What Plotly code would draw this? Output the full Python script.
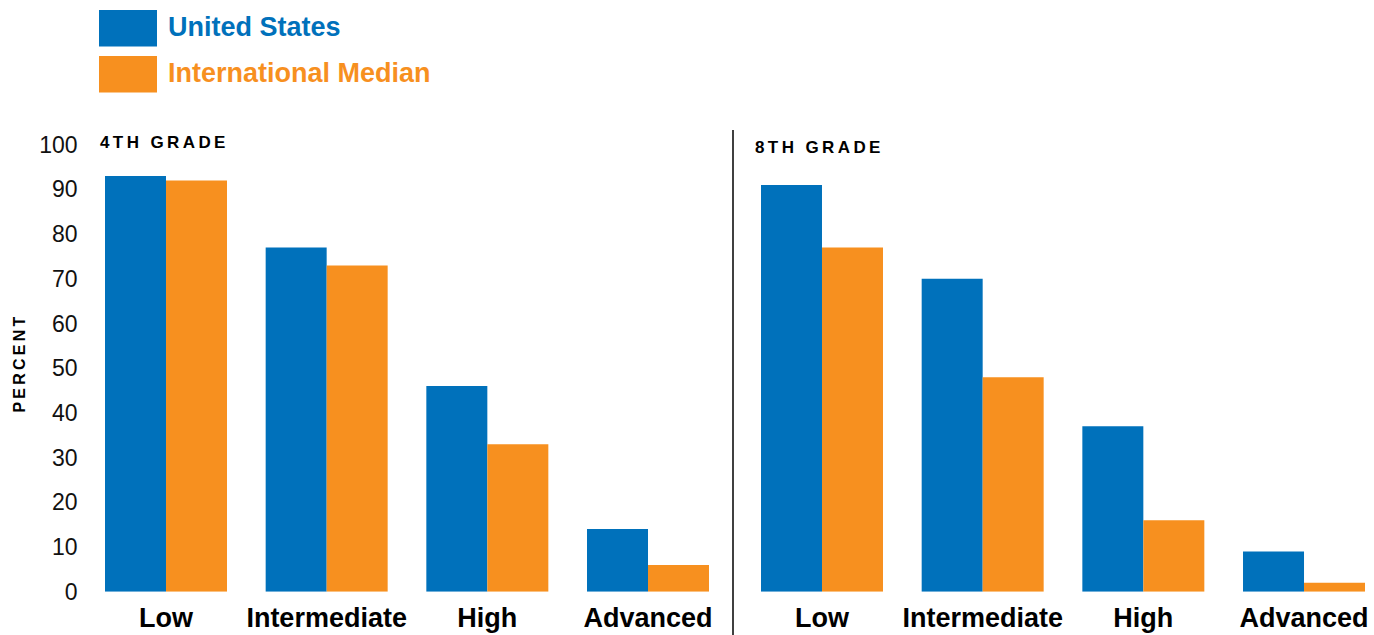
import plotly.graph_objects as go

# Percent of students reaching each TIMSS international benchmark
benchmarks = ["Low", "Intermediate", "High", "Advanced"]
us_grade4 = [93, 77, 46, 14]
intl_grade4 = [92, 73, 33, 6]
us_grade8 = [91, 70, 37, 9]
intl_grade8 = [77, 48, 16, 2]

y_ticks = [0, 10, 20, 30, 40, 50, 60, 70, 80, 90, 100]
series_names = ["United States", "International Median"]

BLUE = "#0071BB"
ORANGE = "#F7901F"
W, H = 1374, 635
FONT = "Liberation Sans, Arial, sans-serif"


def px_x(x):
    return x / W


def px_y(y):
    return 1 - y / H


fig = go.Figure()

fig.add_trace(go.Bar(x=benchmarks, y=us_grade4, name=series_names[0],
                     marker=dict(color=BLUE, line=dict(width=0)),
                     xaxis="x", yaxis="y"))
fig.add_trace(go.Bar(x=benchmarks, y=intl_grade4, name=series_names[1],
                     marker=dict(color=ORANGE, line=dict(width=0)),
                     xaxis="x", yaxis="y"))
fig.add_trace(go.Bar(x=benchmarks, y=us_grade8, name=series_names[0],
                     marker=dict(color=BLUE, line=dict(width=0)),
                     xaxis="x2", yaxis="y2"))
fig.add_trace(go.Bar(x=benchmarks, y=intl_grade8, name=series_names[1],
                     marker=dict(color=ORANGE, line=dict(width=0)),
                     xaxis="x2", yaxis="y2"))

pitch = 160.67
left_start = 166 - pitch / 2
left_end = 648 + pitch / 2
right_start = 822 - pitch / 2
right_span_end = -0.5 + (W - right_start) / pitch

y_dom = [px_y(591.7), px_y(144.7)]
cat_font = dict(family=FONT, size=27, color="#000000", weight="bold")
axis_common = dict(showgrid=False, zeroline=False, showline=False, ticks="",
                   automargin=False)

fig.update_layout(
    width=W, height=H,
    margin=dict(l=0, r=0, t=0, b=0, pad=0, autoexpand=False),
    paper_bgcolor="white", plot_bgcolor="white",
    showlegend=False,
    barmode="group", bargap=0.2407, bargroupgap=0,
    font=dict(family=FONT, color="#000000"),
    xaxis=dict(domain=[px_x(left_start), px_x(left_end)], range=[-0.5, 3.5],
               tickfont=cat_font, anchor="y", ticklabelstandoff=7, **axis_common),
    yaxis=dict(domain=y_dom, range=[0, 100], tickvals=y_ticks,
               tickfont=dict(family=FONT, size=23, color="#111111"),
               anchor="x", ticklabelstandoff=7, **axis_common),
    xaxis2=dict(domain=[px_x(right_start), 1], range=[-0.5, right_span_end],
                tickfont=cat_font, anchor="y2", ticklabelstandoff=7, **axis_common),
    yaxis2=dict(domain=y_dom, range=[0, 100], showticklabels=False,
                anchor="x2", **axis_common),
)

# Divider between the two grade panels
fig.add_shape(type="line", xref="paper", yref="paper",
              x0=px_x(733), x1=px_x(733), y0=px_y(130), y1=px_y(635),
              line=dict(color="#000000", width=1.5))

# Legend swatches and labels
swatches = [(BLUE, 10, 46.5, series_names[0], 27), (ORANGE, 56, 92.5, series_names[1], 73)]
for color, top, bottom, label, cy in swatches:
    fig.add_shape(type="rect", xref="paper", yref="paper",
                  x0=px_x(99), x1=px_x(157), y0=px_y(bottom), y1=px_y(top),
                  line=dict(width=0), fillcolor=color)
    fig.add_annotation(text="<b>%s</b>" % label, xref="paper", yref="paper",
                       x=px_x(166), y=px_y(cy), xanchor="left", yanchor="middle",
                       showarrow=False,
                       font=dict(family=FONT, size=27, color=color))


def spaced(word):
    return "\u2009".join(word)


panel_titles = [("4TH GRADE", 98, 142), ("8TH GRADE", 753, 147)]
for title, x, y in panel_titles:
    fig.add_annotation(text="<b>%s</b>" % spaced(title), xref="paper", yref="paper",
                       x=px_x(x), y=px_y(y), xanchor="left", yanchor="middle",
                       showarrow=False,
                       font=dict(family=FONT, size=17, color="#000000"))

fig.add_annotation(text="<b>%s</b>" % spaced("PERCENT"), xref="paper", yref="paper",
                   x=px_x(18.5), y=px_y(365), xanchor="center", yanchor="middle",
                   textangle=-90, showarrow=False,
                   font=dict(family=FONT, size=16, color="#000000"))

fig.write_html("out.html")
